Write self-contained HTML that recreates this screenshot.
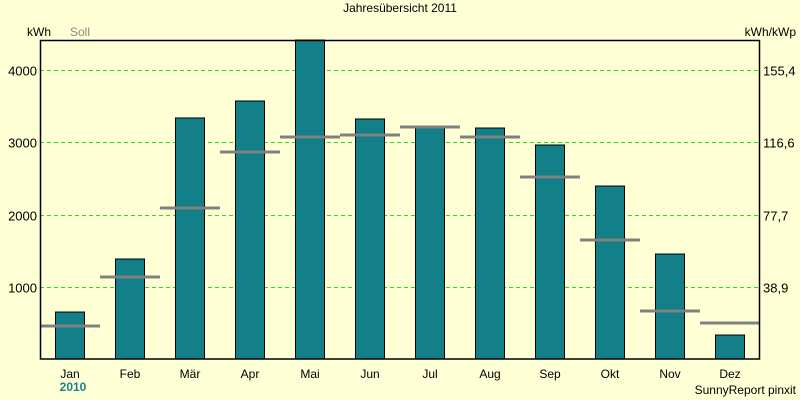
<!DOCTYPE html>
<html><head><meta charset="utf-8"><style>
body{margin:0;background:#ffffd6;}
svg{display:block;font-family:"Liberation Sans",sans-serif;}
</style></head><body>
<svg id="c" width="800" height="400">
<rect x="0" y="0" width="800" height="400" fill="#ffffd6"/>
<text x="400" y="12" font-size="12" text-anchor="middle">Jahresübersicht 2011</text>
<text x="27" y="36" font-size="12">kWh</text>
<text x="70" y="36" font-size="12" fill="#888">Soll</text>
<text x="796" y="36" font-size="12" text-anchor="end">kWh/kWp</text>
<text x="73" y="391" font-size="12" font-weight="bold" fill="#1a7f8a" text-anchor="middle">2010</text>
<text x="796" y="394" font-size="12" text-anchor="end">SunnyReport pinxit</text>
<g id="grid"></g><g id="bars"></g><g id="soll"></g><g id="labels"></g>
<rect x="40.5" y="40.5" width="719" height="318.5" fill="none" stroke="#000" stroke-width="1.5"/>
</svg>
<script>
const months=["Jan","Feb","Mär","Apr","Mai","Jun","Jul","Aug","Sep","Okt","Nov","Dez"];
const actual=[650,1384,3336,3571,4500,3322,3225,3197,2962,2394,1453,332];
const target=[457,1135,2090,2865,3073,3100,3211,3073,2519,1647,664,498];
const leftTicks=[1000,2000,3000,4000];
const rightTickLabels=["38,9","77,7","116,6","155,4"];
const NS="http://www.w3.org/2000/svg";
const X0=40,X1=760,Y0=359,YT=40,SLOT=(X1-X0)/12;
function y(v){return Math.max(YT,Y0-v*0.07225);}
function xs(i){return X0+i*SLOT;}
function mk(t,a,p){const e=document.createElementNS(NS,t);for(const k in a)e.setAttribute(k,a[k]);p.appendChild(e);return e;}
const g=document.getElementById('grid'),b=document.getElementById('bars'),s=document.getElementById('soll'),l=document.getElementById('labels');
leftTicks.forEach((v,i)=>{
  const yy=Math.round(y(v))+0.5;
  const ln=mk('line',{x1:X0,x2:X1,y1:yy,y2:yy,stroke:'#22dd22','stroke-dasharray':'4,3'},g);
  
  
  const t=mk('text',{x:37,y:yy+5,'font-size':13,'text-anchor':'end'},l);t.textContent=v;
  
  
  const t2=mk('text',{x:763,y:yy+5,'font-size':13},l);t2.textContent=rightTickLabels[i];
  
  
});
months.forEach((m,i)=>{
  const cx=xs(i)+SLOT/2,top=y(actual[i]);
  const r=mk('rect',{x:cx-14.5,y:top,width:29,height:Y0-top,fill:'#137f88',stroke:'#000','stroke-width':1},b);
  
  
  const sy=y(target[i]);
  const sl=mk('line',{x1:xs(i),x2:xs(i)+SLOT,y1:sy,y2:sy,stroke:'#808080','stroke-width':3},s);
  
  
  const t=mk('text',{x:cx,y:378,'font-size':12,'text-anchor':'middle'},l);t.textContent=m;
  
  
});
</script>
</body></html>
